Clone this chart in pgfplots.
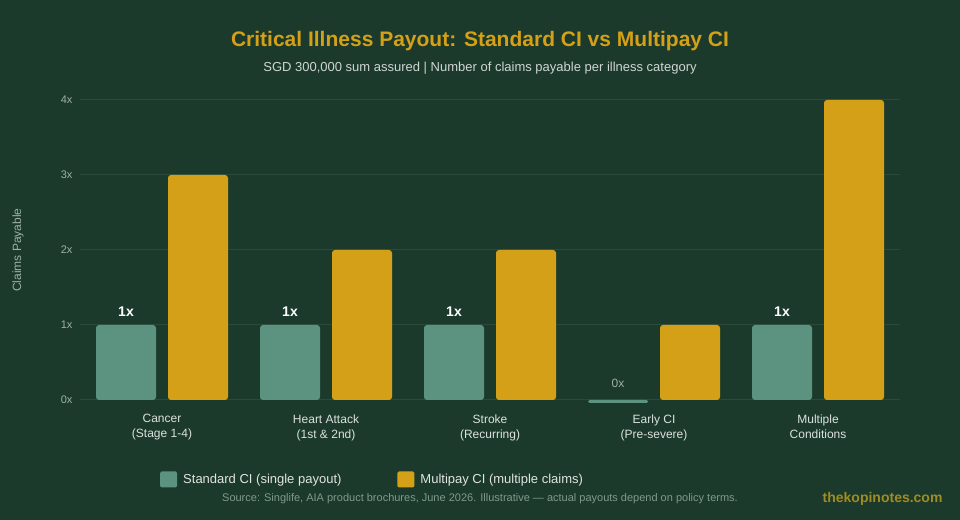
\documentclass[border=0pt]{standalone}
\usepackage{pgfplots}
\pgfplotsset{compat=1.18}
\usepackage{fontspec}
\setmainfont{Liberation Sans}
\definecolor{bgc}{HTML}{1B3A2B}
\definecolor{stdc}{HTML}{5B9280}
\definecolor{multic}{HTML}{D4A017}
\definecolor{gridc}{HTML}{2B4A3B}
\definecolor{tickc}{HTML}{9FB0A5}
\definecolor{subc}{HTML}{CFD6D2}
\definecolor{catc}{HTML}{DCE2DE}
\definecolor{legc}{HTML}{E0E5E2}
\definecolor{srcc}{HTML}{7F9A8B}
\definecolor{brandc}{HTML}{A08C22}
\begin{document}
\begin{tikzpicture}[x=1bp,y=1bp]
\fill[bgc] (0,0) rectangle (960,520);
\node[font=\fontsize{21bp}{25bp}\selectfont\bfseries, text=multic] at (480,479) {Critical Illness Payout: Standard CI vs Multipay CI};
\node[font=\fontsize{13bp}{16bp}\selectfont, text=subc] at (480,452) {SGD 300,000 sum assured | Number of claims payable per illness category};
\node[font=\fontsize{12bp}{14bp}\selectfont, text=tickc, rotate=90] at (18,270) {Claims Payable};
\begin{axis}[
  at={(80bp,120bp)}, anchor=south west,
  width=820bp, height=300bp, scale only axis,
  xmin=-0.5, xmax=4.5, ymin=0, ymax=4,
  clip=false,
  axis line style={draw=none},
  tick style={draw=none},
  ymajorgrids, major grid style={gridc, line width=1bp},
  ytick={0,1,2,3,4}, yticklabels={0x,1x,2x,3x,4x},
  yticklabel style={font=\fontsize{11bp}{13bp}\selectfont, text=tickc, xshift=-4bp},
  /pgf/number format/assume math mode=true,
  xtick={0,1,2,3,4},
  xticklabels={{Cancer\\(Stage 1-4)},{Heart Attack\\(1st \& 2nd)},{Stroke\\(Recurring)},{Early CI\\(Pre-severe)},{Multiple\\Conditions}},
  xticklabel style={align=center, font=\fontsize{12bp}{15bp}\selectfont, text=catc, yshift=-11bp},
  legend columns=2,
  legend style={at={(0.0976,-0.265)}, anchor=west, draw=none, fill=none, inner sep=0pt,
    font=\fontsize{13bp}{15bp}\selectfont, text=legc,
    /tikz/every even column/.append style={column sep=54bp}},
  legend image code/.code={\fill[#1, rounded corners=1.5bp] (0bp,-8bp) rectangle (17bp,8bp);},
]
\addplot[ybar, bar width=60bp, bar shift=-36bp, fill=stdc, draw=none, rounded corners=3bp,
  point meta=explicit symbolic, nodes near coords,
  nodes near coords style={font=\fontsize{14bp}{16bp}\selectfont\bfseries, text=white, anchor=center, yshift=13bp, xshift=-36bp}]
  coordinates {(0,1)[1x] (1,1)[1x] (2,1)[1x] (4,1)[1x]};
\addlegendentry{\hspace{4bp}Standard CI (single payout)}
\addplot[ybar, bar width=60bp, bar shift=36bp, fill=multic, draw=none, rounded corners=3bp]
  coordinates {(0,3) (1,2) (2,2) (3,1) (4,4)};
\addlegendentry{\hspace{4bp}Multipay CI (multiple claims)}
\addplot[ybar, forget plot, bar width=60bp, bar shift=-36bp, fill=stdc, draw=none, rounded corners=1.5bp,
  point meta=explicit symbolic, nodes near coords,
  nodes near coords style={font=\fontsize{12bp}{14bp}\selectfont, text=tickc, anchor=center, yshift=20bp, xshift=-36bp}]
  coordinates {(3,-0.04)[0x]};
\end{axis}
\node[font=\fontsize{11bp}{13bp}\selectfont, text=srcc] at (480,21) {Source: Singlife, AIA product brochures, June 2026. Illustrative — actual payouts depend on policy terms.};
\node[font=\fontsize{14bp}{16bp}\selectfont\bfseries, text=brandc, anchor=east] at (946,21) {thekopinotes.com};
\end{tikzpicture}
\end{document}
